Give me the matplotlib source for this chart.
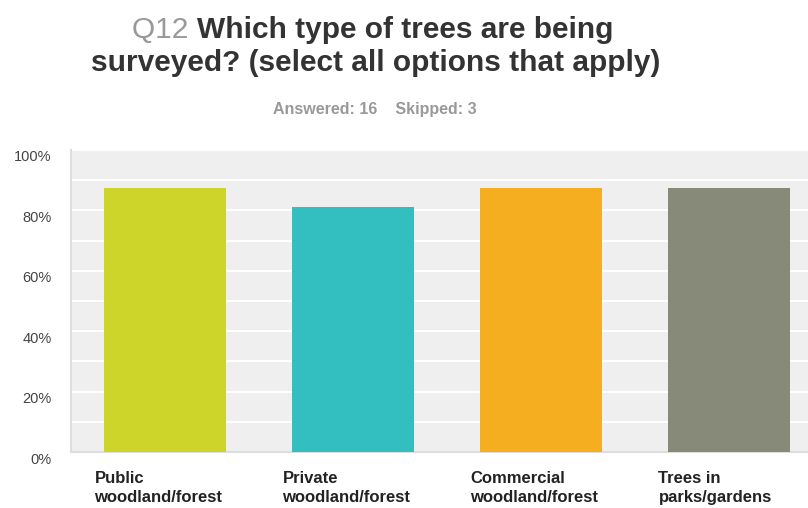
import matplotlib
matplotlib.use("Agg")
import matplotlib.pyplot as plt
import matplotlib.transforms as mtrans
from matplotlib import font_manager
import numpy as np

# Q12 survey answers (percent of respondents)
categories = ["Public\nwoodland/forest", "Private\nwoodland/forest",
              "Commercial\nwoodland/forest", "Trees in\nparks/gardens"]
values = [87.5, 81.25, 87.5, 87.5]
colors = ["#cdd42a", "#33bec0", "#f5ae1f", "#878a79"]
yticks = [0, 20, 40, 60, 80, 100]

names = {f.name for f in font_manager.fontManager.ttflist}
narrow = "Liberation Sans Narrow" if "Liberation Sans Narrow" in names else "Liberation Sans"

fig = plt.figure(figsize=(8.08, 5.08), dpi=100)
fig.patch.set_facecolor("white")
ax = fig.add_axes([71/808, 1-452/508, 752/808, 302/508])
ax.set_facecolor("#efefef")

x = np.arange(len(values))
ax.bar(x, values, width=0.645, color=colors, zorder=3)
ax.set_xlim(-0.5, 3.5)
ax.set_ylim(0, 100)
ax.set_axisbelow(True)
ax.set_yticks(yticks)
ax.set_yticks(np.arange(10, 100, 20), minor=True)
ax.yaxis.grid(True, which="both", color="white", linewidth=1.5)
ax.set_yticklabels([f"{v}%" for v in yticks], color="#444444",
                   fontsize=10.5, family="Liberation Sans")
ax.tick_params(axis="y", length=0, pad=14)
ax.tick_params(axis="y", which="minor", length=0)
off = mtrans.ScaledTranslation(0, -6/100, fig.dpi_scale_trans)
for lab in ax.get_yticklabels():
    lab.set_transform(lab.get_transform() + off)
ax.set_xticks([])
for s in ["top", "right"]:
    ax.spines[s].set_visible(False)
ax.spines["left"].set_color("#dddddd")
ax.spines["left"].set_linewidth(1.5)
ax.spines["bottom"].set_color("#dddddd")
ax.spines["bottom"].set_linewidth(1.5)

for i, lab in enumerate(categories):
    ax.text(i - 0.375, -6.3, lab, ha="left", va="top", fontsize=12,
            fontweight="bold", family=narrow, color="#222222",
            linespacing=1.3, transform=ax.transData)

# title
t1 = fig.text(376/808, 1-30/508, "Which type of trees are being", ha="center",
              va="center", fontsize=21.5, fontweight="bold", family=narrow,
              color="#333333")
fig.text(376/808, 1-63/508, "surveyed? (select all options that apply)",
         ha="center", va="center", fontsize=21.5, fontweight="bold",
         family=narrow, color="#333333")
fig.text(375/808, 1-109/508, "Answered: 16    Skipped: 3", ha="center",
         va="center", fontsize=11.5, fontweight="bold", family=narrow,
         color="#999999")

# shift first line so "Q12" sits before it
r = fig.canvas.get_renderer()
q = fig.text(0, 1-30/508, "Q12 ", ha="left", va="center", fontsize=21.5,
             family=narrow, color="#999999")
bb_t = t1.get_window_extent(r)
bb_q = q.get_window_extent(r)
total = bb_t.width + bb_q.width
left = 373 - total/2
q.set_x(left/808)
t1.set_ha("left")
t1.set_x((left + bb_q.width)/808)

fig.savefig("out.png", dpi=100)
